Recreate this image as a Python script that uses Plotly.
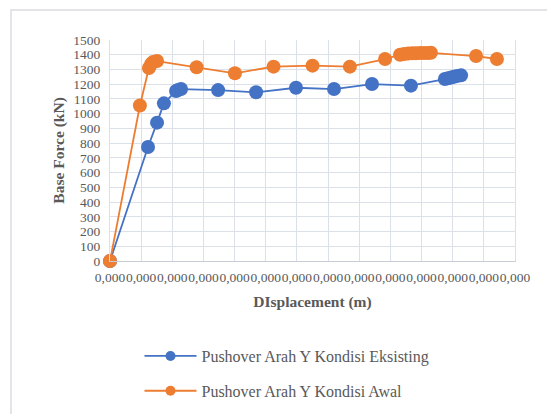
import plotly.graph_objects as go

# Pushover curves: displacement (m) vs base force (kN)
disp_eksisting = [0, 0.0000244, 0.0000302, 0.0000346, 0.0000424, 0.0000436, 0.0000456,
                  0.0000694, 0.0000938, 0.0001194, 0.0001438, 0.0001682, 0.0001932,
                  0.000215, 0.000217, 0.000219, 0.0002208, 0.0002228, 0.0002254]
force_eksisting = [0, 774, 939, 1070, 1154, 1160, 1167,
                   1160, 1145, 1176, 1167, 1201, 1190,
                   1235, 1240, 1245, 1250, 1255, 1260]

disp_awal = [0, 0.0000192, 0.000025, 0.0000264, 0.0000276, 0.0000302, 0.0000556,
             0.0000802, 0.000105, 0.00013, 0.000154, 0.0001766, 0.0001862, 0.0001888,
             0.0001914, 0.000194, 0.0001964, 0.000199, 0.0002016, 0.0002042, 0.000206,
             0.000235, 0.0002484]
force_awal = [0, 1055, 1310, 1337, 1350, 1357, 1315,
              1274, 1319, 1326, 1319, 1371, 1400, 1405,
              1408, 1410, 1410, 1411, 1412, 1412, 1413,
              1391, 1371]

series_names = ["Pushover Arah Y Kondisi Eksisting", "Pushover Arah Y Kondisi Awal"]
series_colors = ["#4472C4", "#ED7D31"]

FONT = "Liberation Serif"
TEXT = "#595959"
GRID = "#DCE0E8"

fig = go.Figure()
for name, xs, ys, col in zip(series_names, [disp_eksisting, disp_awal],
                             [force_eksisting, force_awal], series_colors):
    fig.add_trace(go.Scatter(
        x=xs, y=ys, name=name, mode="lines+markers",
        line=dict(color=col, width=1.8),
        marker=dict(color=col, size=14, line=dict(width=0)),
        cliponaxis=False, showlegend=False,
    ))

# legend entries with a smaller symbol than the plotted markers
for name, col in zip(series_names, series_colors):
    fig.add_trace(go.Scatter(
        x=[None], y=[None], name=name, mode="lines+markers",
        line=dict(color=col, width=1.8),
        marker=dict(color=col, size=10, line=dict(width=0)),
        legendgroup=name, showlegend=True,
    ))

fig.update_layout(
    width=547, height=414,
    margin=dict(l=110, r=32, t=40, b=153, autoexpand=False),
    paper_bgcolor="white", plot_bgcolor="white",
    separators=",.",
    font=dict(family=FONT, color=TEXT, size=13.5),
    showlegend=True,
    legend=dict(
        xref="container", yref="container",
        x=0.255, y=0.181, xanchor="left", yanchor="top",
        font=dict(family=FONT, size=16, color=TEXT),
        itemwidth=52, tracegroupgap=11, bgcolor="rgba(0,0,0,0)",
    ),
    xaxis=dict(
        range=[0, 0.00026], tick0=0, dtick=0.00002, tickformat=".3f",
        tickangle=0,
        showgrid=True, gridcolor=GRID, gridwidth=1.3,
        showline=True, linecolor="#C8CCD4", linewidth=1.3,
        zeroline=False, ticks="", ticklabelstandoff=4,
        tickfont=dict(family=FONT, size=13.5, color=TEXT),
        title=dict(text="<b>DIsplacement (m)</b>", standoff=11,
                   font=dict(family=FONT, size=15.5, color=TEXT)),
    ),
    yaxis=dict(
        range=[0, 1500], dtick=100,
        showgrid=True, gridcolor=GRID, gridwidth=1.3,
        showline=True, mirror=True, linecolor=GRID, linewidth=1.3,
        zeroline=False, ticks="", ticklabelstandoff=6,
        tickfont=dict(family=FONT, size=13.5, color=TEXT),
    ),
    annotations=[dict(
        text="<b>Base Force (kN)</b>", textangle=-90,
        xref="paper", yref="paper", x=-0.128, y=0.5,
        xanchor="center", yanchor="middle", showarrow=False,
        font=dict(family=FONT, size=15.5, color=TEXT),
    )],
    shapes=[dict(
        type="rect", xref="paper", yref="paper",
        x0=-0.2444, x1=1.2, y0=-0.9, y1=1.1357,
        line=dict(color="#D9DCE3", width=1.5), fillcolor="rgba(0,0,0,0)",
        layer="below",
    )],
)

fig.write_html("out.html")
